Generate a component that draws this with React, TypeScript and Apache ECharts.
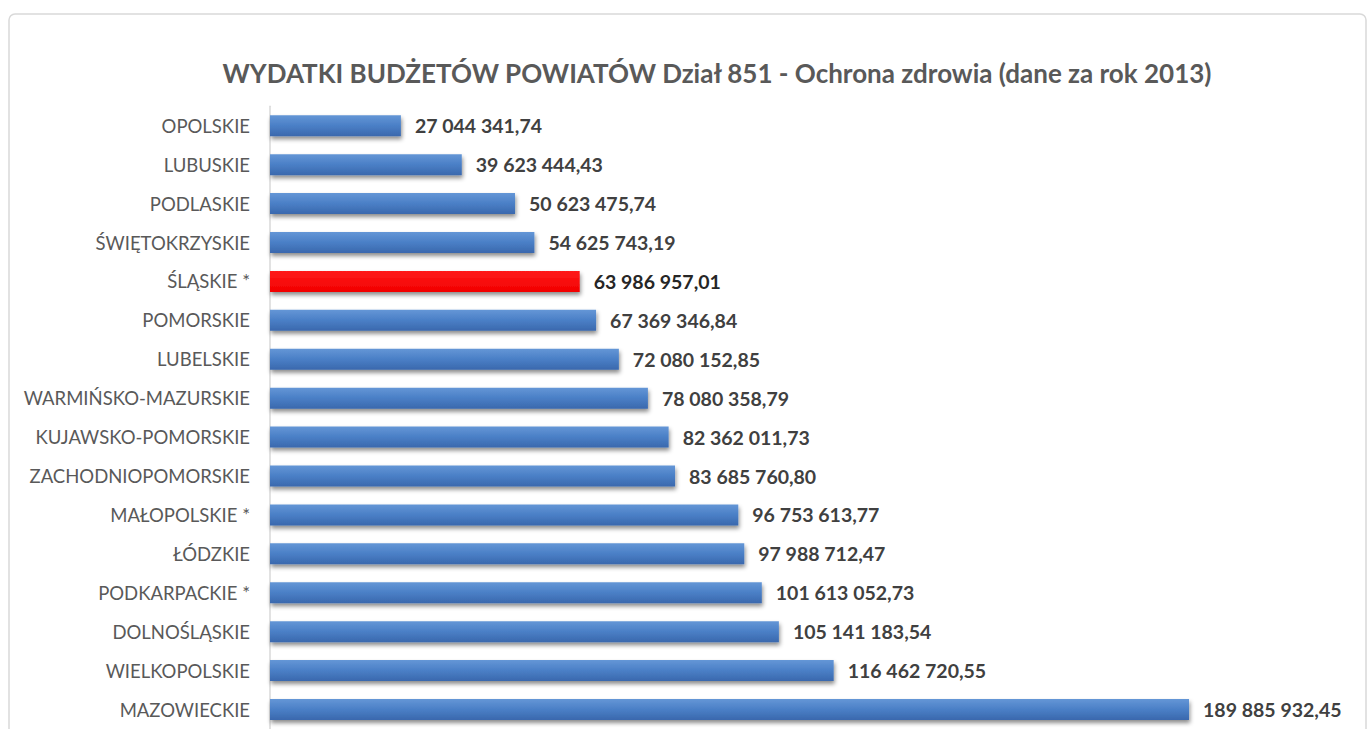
import React, { useEffect, useRef } from "react";
import * as echarts from "echarts";

const categories = [
  "OPOLSKIE",
  "LUBUSKIE",
  "PODLASKIE",
  "ŚWIĘTOKRZYSKIE",
  "ŚLĄSKIE *",
  "POMORSKIE",
  "LUBELSKIE",
  "WARMIŃSKO-MAZURSKIE",
  "KUJAWSKO-POMORSKIE",
  "ZACHODNIOPOMORSKIE",
  "MAŁOPOLSKIE *",
  "ŁÓDZKIE",
  "PODKARPACKIE *",
  "DOLNOŚLĄSKIE",
  "WIELKOPOLSKIE",
  "MAZOWIECKIE",
];

const values = [
  27044341.74,
  39623444.43,
  50623475.74,
  54625743.19,
  63986957.01,
  67369346.84,
  72080152.85,
  78080358.79,
  82362011.73,
  83685760.8,
  96753613.77,
  97988712.47,
  101613052.73,
  105141183.54,
  116462720.55,
  189885932.45,
];

const highlighted = ["ŚLĄSKIE *"];

const titleText =
  "WYDATKI BUDŻETÓW POWIATÓW Dział 851 - Ochrona zdrowia (dane za rok 2013)";

const FONT = "Lato, 'Open Sans', sans-serif";

function formatPL(v: number): string {
  const [intPart, dec] = v.toFixed(2).split(".");
  const grouped = intPart.replace(/\B(?=(\d{3})+(?!\d))/g, " ");
  return grouped + "," + dec;
}

export default function App() {
  const ref = useRef<HTMLDivElement>(null);

  useEffect(() => {
    if (!ref.current) return;
    const chart = echarts.init(ref.current, undefined, { renderer: "svg" });

    const blue = new echarts.graphic.LinearGradient(0, 0, 0, 1, [
      { offset: 0, color: "#6496d6" },
      { offset: 0.5, color: "#4a7fc6" },
      { offset: 1, color: "#3a68ad" },
    ]);
    const red = new echarts.graphic.LinearGradient(0, 0, 0, 1, [
      { offset: 0, color: "#ff1a1a" },
      { offset: 1, color: "#f20000" },
    ]);

    const data = values.map((v, i) => {
      const isHi = highlighted.includes(categories[i]);
      return {
        value: v,
        itemStyle: {
          color: isHi ? red : blue,
          shadowColor: "rgba(0,0,0,0.45)",
          shadowBlur: 4,
          shadowOffsetX: 1,
          shadowOffsetY: 3,
        },
        label: {
          color: isHi ? "#262626" : "#404040",
        },
      };
    });

    chart.setOption({
      animation: false,
      backgroundColor: "#ffffff",
      title: {
        text: titleText,
        left: 712,
        textAlign: "center",
        top: 55,
        textStyle: {
          fontFamily: FONT,
          fontSize: 26,
          fontWeight: "bold",
          color: "#595959",
        },
      },
      graphic: [
        {
          type: "rect",
          shape: { x: 9, y: 14, width: 1357, height: 780, r: 6 },
          style: { fill: "none", stroke: "#d9d9d9", lineWidth: 1.5 },
          silent: true,
          z: -10,
        },
      ],
      grid: {
        left: 270,
        right: 132,
        top: 106.3,
        bottom: -8.8,
        containLabel: false,
      },
      xAxis: {
        type: "value",
        min: 0,
        max: 200000000,
        show: false,
        splitLine: { show: false },
      },
      yAxis: {
        type: "category",
        data: categories,
        inverse: true,
        axisLine: { show: true, lineStyle: { color: "#d9d9d9", width: 1.5 } },
        axisTick: { show: false },
        axisLabel: {
          margin: 20,
          fontFamily: FONT,
          fontSize: 18.5,
          color: "#595959",
        },
      },
      series: [
        {
          type: "bar",
          data,
          barWidth: 21,
          label: {
            show: true,
            position: "right",
            distance: 14,
            fontFamily: FONT,
            fontSize: 19.5,
            fontWeight: "bold",
            formatter: (p: any) => formatPL(p.value),
          },
        },
      ],
    });

    return () => chart.dispose();
  }, []);

  return (
    <div
      ref={ref}
      style={{
        position: "absolute",
        left: 0,
        top: 0,
        width: 1370,
        height: 729,
      }}
    />
  );
}
